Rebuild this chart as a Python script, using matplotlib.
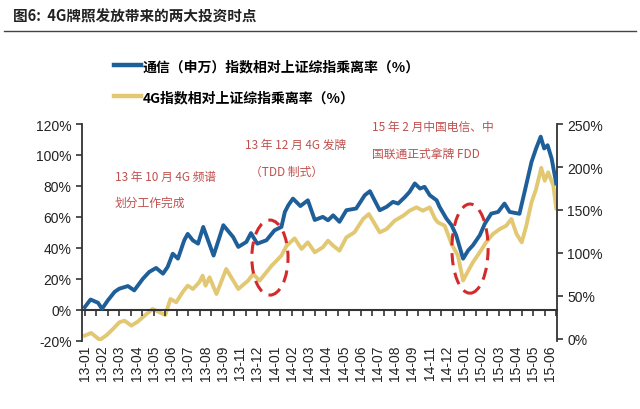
import numpy as np
import matplotlib
matplotlib.use("Agg")
import matplotlib.pyplot as plt
from matplotlib.patches import Ellipse
from matplotlib.lines import Line2D

plt.rcParams['font.family'] = ['Liberation Sans', 'Noto Sans CJK SC']
plt.rcParams['axes.unicode_minus'] = False

# 月份标签（每 3 个时间单位一个）
month_labels = ["13-01", "13-02", "13-03", "13-04", "13-05", "13-06", "13-07",
                "13-08", "13-09", "13-11", "13-12", "14-01", "14-02", "14-03",
                "14-04", "14-05", "14-06", "14-07", "14-08", "14-09", "14-11",
                "14-12", "15-01", "15-02", "15-03", "15-04", "15-05", "15-06"]

# 通信（申万）乘离率，左轴 (%)
t_tel = [0, 1.0, 2.3, 3.0, 4.0, 5.2, 6.0, 7.5, 8.6, 10.1, 11.2, 12.4, 13.6, 14.4,
         15.3, 16.2, 17.3, 17.9, 18.8, 19.7, 20.6, 22.4, 24.1, 25.8, 26.7, 28.1,
         28.9, 30.0, 31.6, 33.0, 34.2, 34.8, 35.4, 36.2, 37.5, 38.8, 40.0, 41.4,
         42.3, 43.2, 44.3, 45.5, 47.2, 48.7, 49.6, 50.1, 51.3, 52.5, 53.6, 54.5,
         55.7, 56.5, 57.4, 58.3, 59.1, 60.0, 61.2, 61.7, 62.9, 63.8, 64.6, 65.8,
         66.7, 67.5, 68.7, 69.6, 70.7, 71.9, 73.0, 73.9, 75.6, 76.5, 77.7, 78.5,
         79.3, 79.9, 80.5, 81.2, 82.0]
v_tel = [1.7, 6.6, 4.5, 0.6, 6, 11.6, 13.6, 15.3, 12.5, 20, 24.4, 27, 23.3, 27.6,
         36.2, 33, 44.9, 49, 44.8, 42.7, 53.5, 35, 54.6, 47, 40.6, 43.8,
         49.5, 42.7, 44.9, 51.3, 53.5, 63.2, 67.5, 71.8, 67, 70.7, 58, 60,
         57.8, 61, 56.8, 64.3, 65.4, 74, 76.6, 72.9, 64.3, 66.5, 69.7, 68.6,
         72.9, 76.2, 81.6, 78.3, 79.4, 74, 70.7, 66.5, 58.9, 54.6, 48.1, 33,
         38.4, 41.6, 48.1, 55.7, 62.1, 63.2, 68.6, 63.2, 62, 76.2, 95.5, 104.2,
         111.8, 104.2, 106.3, 97.7, 81.6]

# 4G 指数乘离率，右轴 (%)
t_4g = [0, 1.1, 2.6, 3.7, 4.9, 6.0, 6.9, 8.1, 9.2, 10.4, 11.8, 13.0, 14.0, 14.9,
        15.9, 17.0, 17.9, 18.8, 19.9, 20.5, 21.0, 21.7, 22.9, 24.6, 26.7, 28.4,
        29.3, 30.4, 32.5, 34.2, 35.1, 36.5, 37.7, 38.8, 40.0, 41.4, 42.3, 43.2,
        44.3, 45.5, 46.9, 48.4, 49.4, 50.1, 51.3, 52.5, 53.9, 55.4, 56.5, 57.7,
        58.8, 60.0, 60.9, 61.4, 62.6, 63.8, 64.9, 65.8, 66.7, 67.5, 68.7, 69.8,
        71.0, 72.2, 73.3, 74.2, 75.1, 76.0, 76.8, 77.7, 78.5, 79.4, 80.0, 80.6,
        81.5, 82.0]
v_4g = [3.9, 7, -1, 3.9, 11.6, 19.4, 21.3, 15.5, 20.1, 27.1, 34.9, 31, 27.9, 46.5,
        42.7, 54.3, 62, 58.1, 65.9, 73.6, 62, 71.7, 52.3, 81.4, 58.1, 67.8,
        75.6, 67.8, 85.2, 96.9, 108.5, 117, 104.7, 112.4, 100.8, 106.6, 114.3, 108.5,
        102.7, 118.2, 124, 139.5, 145.3, 137.6, 124, 127.9, 137.6, 143.4, 149.2, 153.1,
        149.2, 153.1, 140, 135.7, 131.7, 110.5, 96.9, 68, 79.4, 89.1, 100.8, 112.4,
        122.1, 127.9, 131.7, 139.5, 122.1, 112.4, 131.7, 158.9, 174.4, 199, 184, 193.8,
        178.3, 152]

blue = "#1f5f99"
khaki = "#e2c873"
red_txt = "#c0504d"
spine_c = "#333333"

fig = plt.figure(figsize=(6.4, 4.1), dpi=100)
ax = fig.add_axes([0.128, 0.1666, 0.742, 0.5285])
ax2 = ax.twinx()
ax.set_zorder(ax2.get_zorder() + 1)
ax.patch.set_visible(False)

ax2.plot(t_4g, v_4g, color=khaki, lw=2.8, solid_joinstyle='round')
ax.plot(t_tel, v_tel, color=blue, lw=2.8, solid_joinstyle='round')

ax.set_xlim(-0.5, 82.1)
ax.set_ylim(-20, 120)
ax2.set_ylim(-2, 250)

ax.set_yticks(np.arange(-20, 121, 20))
ax.set_yticklabels([f"{v}%" for v in range(-20, 121, 20)])
ax2.set_yticks(np.arange(0, 251, 50))
ax2.set_yticklabels([f"{v}%" for v in range(0, 251, 50)])

ax.set_xticks(np.arange(0, 82, 3))
ax.set_xticklabels(month_labels, rotation=90)
ax.tick_params(axis='x', length=0, pad=3, labelsize=10, labelcolor="#222222")
ax.tick_params(axis='y', direction='out', length=4, width=1.2, color=spine_c,
               labelsize=10, labelcolor="#222222")
ax2.tick_params(axis='y', direction='out', length=4, width=1.2, color=spine_c,
                labelsize=10, labelcolor="#222222")

for s in ['top', 'right', 'bottom']:
    ax.spines[s].set_visible(False)
for s in ['top', 'left', 'bottom']:
    ax2.spines[s].set_visible(False)
ax.spines['left'].set_color(spine_c)
ax.spines['left'].set_linewidth(1.3)
ax2.spines['right'].set_color(spine_c)
ax2.spines['right'].set_linewidth(1.3)

# 0% 处的横轴线与刻度
sec = ax.secondary_xaxis(20 / 140)
sec.set_xticks(np.arange(0, 83, 2))
sec.set_xticklabels([])
sec.tick_params(direction='out', length=4, width=1.2, color=spine_c)
for s in sec.spines.values():
    s.set_color(spine_c)
    s.set_linewidth(1.5)

# 虚线椭圆
for cx, cy, w, h in [(32.2, 33.7, 6.3, 48.5), (67.0, 39.5, 6.3, 57.6)]:
    ax.add_patch(Ellipse((cx, cy), w, h, fill=False, edgecolor="#d42a2a",
                         lw=2.2, ls=(0, (4, 2.5)), zorder=5))

# 标注文字
notes = [(115, 177, "13 年 10 月 4G 频谱"), (115, 203, "划分工作完成"),
         (245, 145, "13 年 12 月 4G 发牌"), (250, 172, "（TDD 制式）"),
         (372, 127, "15 年 2 月中国电信、中"), (372, 154, "国联通正式拿牌 FDD")]
for x, y, s in notes:
    fig.text(x / 640, 1 - y / 410, s, color=red_txt, fontsize=8.5, va='center',
             family=['Noto Sans CJK SC', 'Liberation Sans'])

# 图例
handles = [Line2D([], [], color=blue, lw=3.2), Line2D([], [], color=khaki, lw=3.2)]
labels = ["通信（申万）指数相对上证综指乘离率（%）", "4G指数相对上证综指乘离率（%）"]
fig.legend(handles, labels, loc='upper left', bbox_to_anchor=(0.1775, 0.853),
           frameon=False, handlelength=2.0, handletextpad=0.1, labelspacing=1.2,
           borderaxespad=0, borderpad=0,
           prop={'family': ['Noto Sans CJK SC', 'Liberation Sans'],
                 'weight': 'bold', 'size': 10})

# 标题与分隔线
fig.text(13 / 640, 1 - 17 / 410, "图6:  4G牌照发放带来的两大投资时点",
         fontsize=10.5, weight='bold', va='center', color="#222222",
         family=['Noto Sans CJK SC', 'Liberation Sans'])
fig.add_artist(Line2D([4 / 640, 636 / 640], [1 - 32 / 410, 1 - 32 / 410],
                      color="#444444", lw=1.0))

fig.savefig("out.png", dpi=100)
